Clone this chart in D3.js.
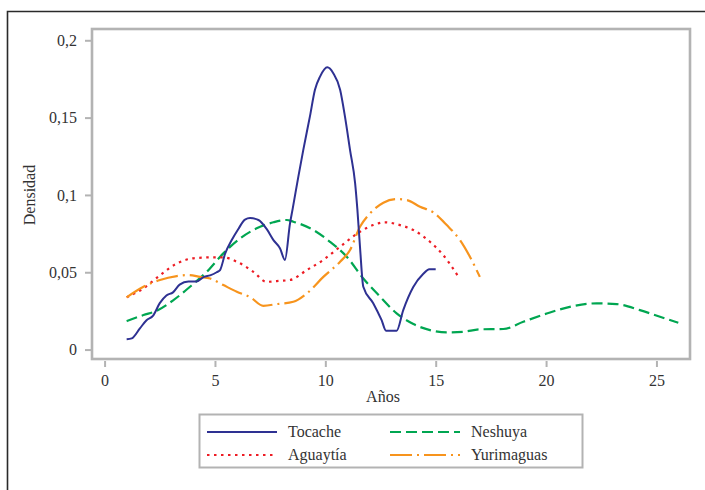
<!DOCTYPE html>
<html>
<head>
<meta charset="utf-8">
<script src="https://cdn.jsdelivr.net/npm/d3@7"></script>
<style>
  body { margin: 0; background: #fff; }
  text { font-family: "Liberation Serif", "DejaVu Serif", serif; fill: #333; }
</style>
</head>
<body>
<div class="chart"></div>
<script>
var width = 705, height = 490;

// values (age in years, density)
var tocacheX = [1.0, 1.23, 1.6, 1.9, 2.2, 2.5, 2.8, 3.1, 3.4, 3.8, 4.17, 4.5, 4.78, 5.08, 5.23, 5.46, 5.76, 6.06, 6.36, 6.59, 6.97, 7.34, 7.65, 7.95, 8.17, 8.4, 8.52, 8.78, 9.0, 9.3, 9.53, 9.76, 10.09, 10.36, 10.67, 10.89, 11.12, 11.35, 11.45, 11.57, 11.72, 12.17, 12.55, 12.75, 13.23, 13.53, 13.99, 14.44, 14.71, 15.0];
var tocacheY = [0.0066, 0.0072, 0.0137, 0.019, 0.022, 0.030, 0.035, 0.037, 0.042, 0.044, 0.044, 0.047, 0.048, 0.050, 0.0514, 0.062, 0.0708, 0.078, 0.084, 0.085, 0.0838, 0.078, 0.0708, 0.0654, 0.058, 0.0816, 0.091, 0.112, 0.129, 0.1506, 0.168, 0.1765, 0.1825, 0.1787, 0.168, 0.1506, 0.129, 0.1075, 0.091, 0.0665, 0.0406, 0.030, 0.019, 0.0122, 0.0122, 0.0255, 0.0406, 0.049, 0.052, 0.052];

var aguaytiaX = [1.0, 1.76, 2.51, 3.27, 4.02, 4.78, 5.38, 5.99, 6.74, 7.34, 7.8, 8.4, 9.16, 9.91, 10.67, 11.57, 12.17, 12.7, 13.38, 13.99, 14.74, 15.34, 15.98];
var aguaytiaY = [0.0338, 0.0396, 0.048, 0.0557, 0.059, 0.0596, 0.0596, 0.0568, 0.0503, 0.0438, 0.0443, 0.045, 0.0514, 0.058, 0.0665, 0.0762, 0.0805, 0.0823, 0.0805, 0.0773, 0.0697, 0.0611, 0.0482];

var neshuyaX = [1.0, 1.76, 2.36, 3.12, 3.87, 4.63, 5.38, 6.14, 6.89, 7.65, 8.25, 8.55, 9.46, 10.21, 10.97, 11.72, 12.48, 13.23, 13.99, 14.74, 15.5, 16.25, 17.0, 18.06, 18.97, 20.18, 21.23, 22.29, 23.2, 24.25, 25.16, 25.99];
var neshuyaY = [0.0184, 0.0223, 0.0251, 0.032, 0.0406, 0.0503, 0.0622, 0.0719, 0.0784, 0.0823, 0.0838, 0.0827, 0.0773, 0.0697, 0.060, 0.046, 0.0342, 0.0234, 0.0165, 0.0126, 0.0111, 0.0115, 0.0131, 0.0133, 0.018, 0.024, 0.0281, 0.0299, 0.0294, 0.0255, 0.0212, 0.0173];

var yurimaguasX = [1.0, 1.76, 2.51, 3.27, 3.8, 4.33, 4.78, 5.38, 5.99, 6.59, 7.19, 7.8, 8.55, 9.16, 9.91, 10.67, 11.12, 11.57, 12.02, 12.63, 13.23, 13.69, 14.29, 14.89, 15.5, 16.1, 16.55, 17.0];
var yurimaguasY = [0.0338, 0.0406, 0.045, 0.0475, 0.0482, 0.047, 0.046, 0.0417, 0.0374, 0.034, 0.0283, 0.0294, 0.0309, 0.0363, 0.047, 0.0568, 0.0644, 0.0794, 0.088, 0.095, 0.0973, 0.0967, 0.0924, 0.0887, 0.0805, 0.0708, 0.060, 0.047];

var xTicks = [0, 5, 10, 15, 20, 25];
var yTicks = [0, 0.05, 0.1, 0.15, 0.2];

var series = [
	{ name: 'Tocache', xs: tocacheX, ys: tocacheY, color: '#2e3192', dash: null, w: 2 },
	{ name: 'Aguaytía', xs: aguaytiaX, ys: aguaytiaY, color: '#ed1c24', dash: '2.5,4.5', w: 2.2 },
	{ name: 'Neshuya', xs: neshuyaX, ys: neshuyaY, color: '#00a651', dash: '11,5', w: 2.2 },
	{ name: 'Yurimaguas', xs: yurimaguasX, ys: yurimaguasY, color: '#f7941d', dash: '22,5,2,5', w: 2.2 }
];

var svg = d3.select('.chart')
	.append('svg')
	.attr('width', width)
	.attr('height', height);

// outer figure frame (top and left edges)
svg.append('path')
	.attr('d', 'M7.5,490 L7.5,11.5 L705,11.5')
	.attr('fill', 'none')
	.attr('stroke', '#2a2a2a')
	.attr('stroke-width', 1.6);

var x = d3.scaleLinear().domain([-0.57, 26.52]).range([92, 690]);
var y = d3.scaleLinear().domain([-0.0061, 0.2073]).range([359, 29]);

var fmt = function(d) { return String(d).replace('.', ','); };

// axes
var xAxis = svg.append('g')
	.attr('transform', 'translate(0,361)')
	.call(d3.axisBottom(x).tickValues(xTicks).tickSize(6).tickSizeOuter(0).tickPadding(8).tickFormat(fmt));
var yAxis = svg.append('g')
	.attr('transform', 'translate(92,0)')
	.call(d3.axisLeft(y).tickValues(yTicks).tickSize(7).tickSizeOuter(0).tickPadding(8).tickFormat(fmt));

[xAxis, yAxis].forEach(function(a) {
	a.select('.domain').remove();
	a.selectAll('line').attr('stroke', '#b3b3b3').attr('stroke-width', 2);
	a.selectAll('text').attr('font-size', 16).attr('fill', '#333')
		.style('font-family', '"Liberation Serif", serif');
});

// plot frame
svg.append('rect')
	.attr('x', 92)
	.attr('y', 29)
	.attr('width', 598)
	.attr('height', 330)
	.attr('fill', 'none')
	.attr('stroke', '#b3b3b3')
	.attr('stroke-width', 2.6);

var line = d3.line()
	.x(function(d) { return x(d[0]); })
	.y(function(d) { return y(d[1]); })
	.curve(d3.curveMonotoneX);

// draw order: green, red, orange, blue on top
[series[2], series[1], series[3], series[0]].forEach(function(s) {
	var pts = s.xs.map(function(v, i) { return [v, s.ys[i]]; });
	svg.append('path')
		.attr('d', line(pts))
		.attr('fill', 'none')
		.attr('stroke', s.color)
		.attr('stroke-width', s.w)
		.attr('stroke-dasharray', s.dash)
		.attr('stroke-linejoin', 'round');
});

// axis titles
svg.append('text')
	.attr('x', 383)
	.attr('y', 402)
	.attr('text-anchor', 'middle')
	.attr('font-size', 16)
	.text('Años');

svg.append('text')
	.attr('transform', 'translate(35,195) rotate(-90)')
	.attr('text-anchor', 'middle')
	.attr('font-size', 16)
	.text('Densidad');

// legend
var legend = svg.append('g');
legend.append('rect')
	.attr('x', 199.5)
	.attr('y', 414.5)
	.attr('width', 383)
	.attr('height', 53)
	.attr('fill', '#fff')
	.attr('stroke', '#b3b3b3')
	.attr('stroke-width', 2);

var legendPos = [[207, 432], [207, 455], [390, 432], [390, 455]];
series.forEach(function(s, i) {
	var p = legendPos[i];
	legend.append('line')
		.attr('x1', p[0]).attr('x2', p[0] + 70)
		.attr('y1', p[1]).attr('y2', p[1])
		.attr('stroke', s.color)
		.attr('stroke-width', s.w)
		.attr('stroke-dasharray', s.dash);
	legend.append('text')
		.attr('x', p[0] + 81)
		.attr('y', p[1] + 5)
		.attr('font-size', 16)
		.text(s.name);
});
</script>
</body>
</html>
